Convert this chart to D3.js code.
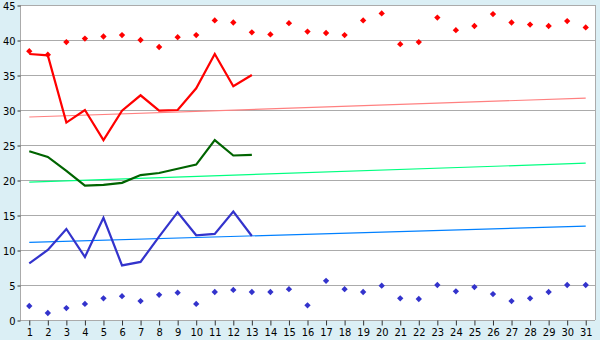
<!DOCTYPE html>
<html>
<head>
<meta charset="utf-8">
<script src="https://cdn.jsdelivr.net/npm/d3@7"></script>
<style>
  html, body { margin: 0; padding: 0; background: #DBEFF5; }
  svg { display: block; }
  text { font-family: "DejaVu Sans Condensed", "DejaVu Sans", Verdana, sans-serif; font-size: 11px; fill: #000; }
</style>
</head>
<body>
<svg id="chart" width="600" height="340"></svg>
<script>
const days = d3.range(1, 32).map(String);
const yTicks = [0, 5, 10, 15, 20, 25, 30, 35, 40, 45];

const redDots = [38.4, 37.9, 39.7, 40.2, 40.5, 40.7, 40.0, 39.0, 40.4, 40.7,
  42.8, 42.5, 41.1, 40.8, 42.4, 41.2, 41.0, 40.7, 42.8, 43.8,
  39.4, 39.7, 43.2, 41.4, 42.0, 43.7, 42.5, 42.2, 42.0, 42.7, 41.8];
const blueDots = [2.0, 1.0, 1.7, 2.3, 3.1, 3.4, 2.7, 3.6, 3.9, 2.3,
  4.0, 4.3, 4.0, 4.0, 4.4, 2.1, 5.6, 4.4, 4.0, 4.9,
  3.1, 3.0, 5.0, 4.1, 4.7, 3.7, 2.7, 3.1, 4.0, 5.0, 5.0];

const redLine = [38.0, 37.8, 28.2, 30.0, 25.7, 29.9, 32.1, 29.9, 30.0, 33.1, 38.0, 33.4, 35.0];
const greenLine = [24.1, 23.3, 21.3, 19.2, 19.3, 19.6, 20.7, 21.0, 21.6, 22.2, 25.7, 23.5, 23.6];
const blueLine = [8.1, 10.0, 13.0, 9.0, 14.6, 7.8, 8.3, 11.9, 15.4, 12.1, 12.3, 15.5, 12.0];

const trendNames = ["red", "green", "blue"];
const trendStart = [29.0, 19.7, 11.1];
const trendEnd = [31.7, 22.4, 13.4];

const lineColors = { red: "#FF0000", green: "#006400", blue: "#3333CC" };
const trendColors = { red: "#FF8080", green: "#00FF80", blue: "#0080FF" };

const svg = d3.select("#chart");
const mLeft = 20, mRight = 595, mTop = 5, mBottom = 320;

const x = d3.scaleBand().domain(days).range([mLeft, mRight]).padding(0);
const cx = d => x(d) + x.bandwidth() / 2;
const y = d3.scaleLinear().domain([0, 45]).range([mBottom, mTop]);

// plot background
svg.append("rect").attr("x", mLeft).attr("y", mTop)
  .attr("width", mRight - mLeft).attr("height", mBottom - mTop).attr("fill", "#FFFFFF");

// gridlines
svg.append("g").selectAll("line").data(yTicks).join("line")
  .attr("x1", mLeft).attr("x2", mRight)
  .attr("y1", d => Math.round(y(d)) + 0.5).attr("y2", d => Math.round(y(d)) + 0.5)
  .attr("stroke", "#ABABAB").attr("stroke-width", 1).attr("shape-rendering", "crispEdges");

// right border
svg.append("line").attr("x1", mRight + 0.5).attr("x2", mRight + 0.5).attr("y1", mTop).attr("y2", mBottom)
  .attr("stroke", "#ABABAB").attr("shape-rendering", "crispEdges");

// y axis
const yAxis = svg.append("g").attr("transform", `translate(${mLeft + 0.5},0.5)`)
  .call(d3.axisLeft(y).tickValues(yTicks).tickSize(3).tickPadding(2).tickFormat(d3.format("d")));
yAxis.select(".domain").attr("stroke", "#ABABAB").attr("d", `M0,${mTop}V${mBottom}`);
yAxis.selectAll(".tick line").attr("stroke", "#333");
yAxis.selectAll("text").attr("font-size", 11).attr("font-family", null);

// x axis
const xAxis = svg.append("g").attr("transform", `translate(0.5,${mBottom + 0.5})`)
  .call(d3.axisBottom(x).tickSize(5).tickPadding(3));
xAxis.select(".domain").remove();
xAxis.selectAll(".tick line").attr("stroke", "#333");
xAxis.selectAll("text").attr("font-size", 11).attr("font-family", null);

// trend lines
trendNames.forEach((n, i) => {
  svg.append("line")
    .attr("x1", cx(days[0])).attr("x2", cx(days[days.length - 1]))
    .attr("y1", y(trendStart[i])).attr("y2", y(trendEnd[i]))
    .attr("stroke", trendColors[n]).attr("stroke-width", 1.2);
});

// data lines
const lineGen = d3.line().x((d, i) => cx(days[i])).y(d => y(d));
[["red", redLine], ["green", greenLine], ["blue", blueLine]].forEach(([n, arr]) => {
  svg.append("path").datum(arr).attr("d", lineGen)
    .attr("fill", "none").attr("stroke", lineColors[n]).attr("stroke-width", 2.2)
    .attr("stroke-linejoin", "miter");
});

// diamond markers
function dots(arr, color) {
  svg.append("g").selectAll("path").data(arr).join("path")
    .attr("d", d3.symbol().type(d3.symbolSquare).size(20))
    .attr("transform", (d, i) => `translate(${cx(days[i])},${y(d)}) rotate(45)`)
    .attr("fill", color);
}
dots(redDots, "#FF0000");
dots(blueDots, "#3333CC");
</script>
</body>
</html>
